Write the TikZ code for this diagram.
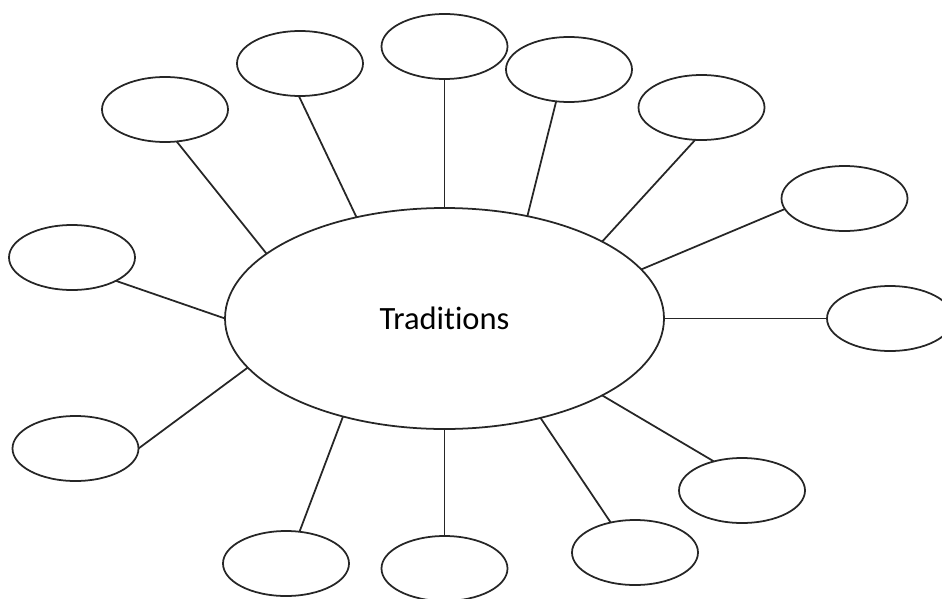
\documentclass[tikz,border=0pt]{standalone}
\usepackage{fontspec}
\setmainfont{Carlito}[Ligatures=NoCommon]
\usetikzlibrary{positioning, shapes.geometric, calc}

\tikzset{
    bubble/.style={ellipse, draw=black!85, line width=1pt, inner sep=0pt, outer sep=0pt,
        minimum width=126*\raster, minimum height=65*\raster},
    hub/.style={bubble, minimum width=439*\raster, minimum height=221*\raster,
        font=\fontsize{18.5}{22}\selectfont},
    spoke/.style={draw=black!85, line width=1pt}
}

\def\raster{0.02cm}

\begin{document}
\begin{tikzpicture}[x=\raster, y=-\raster]
        \useasboundingbox (0,0) rectangle (942,598);

        % centre
        \node[hub] (hub) at (444.5,318.5) {Traditions};

        % outer bubbles
        \foreach \name/\x/\y in {b1/165/109.5, b2/300/63.5, b3/444.5/46.5, b4/569/69.5,
            b5/701.5/107.5, b6/844.5/198.5, b7/890/318.5, b8/742/490.5, b9/635/552.5,
            b10/444.5/568.5, b11/286/563.5, b12/75.5/448.5, b13/72/257.5}
        {
            \node[bubble] (\name) at (\x,\y) {};
        }

        % spokes
        \foreach \name/\a/\b in {b1/160/-70, b2/131/-92, b3/90/-90, b4/51/-112,
            b5/26.5/-101, b6/14/-170, b7/0/180, b8/-26.5/134.5, b9/-46.2/129.5,
            b10/-90/90, b11/-136/67.6, b12/194/0, b13/180/-28.6}
        {
            \draw[spoke] (hub.\a) -- (\name.\b);
        }
    \end{tikzpicture}
\end{document}
